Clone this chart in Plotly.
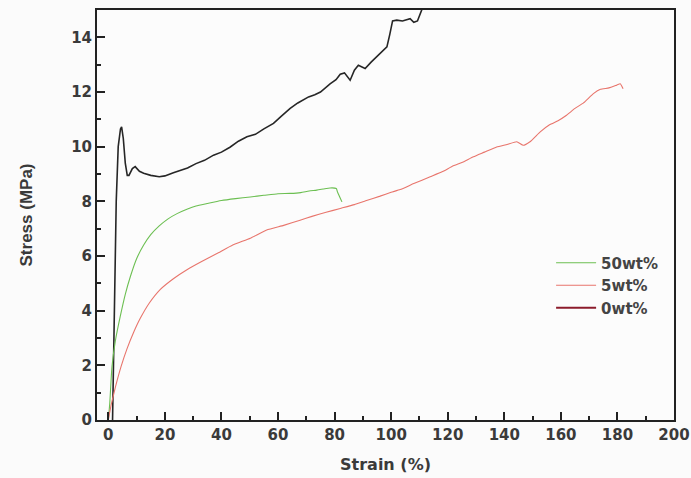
import plotly.graph_objects as go

# ---- data ----
strain_0wt = [1.5, 1.8, 2.2, 2.8, 3.5, 4.3, 4.7, 5.3, 6.0, 6.7, 7.3, 8.5, 9.5, 11.0, 12.5,
              15.0, 18.0, 20.0, 23.0, 25.4, 28.0, 31.0, 34.0, 37.2, 40.0, 43.0, 46.0, 49.0,
              52.0, 55.0, 58.4, 61.0, 64.3, 67.0, 70.8, 73.0, 75.0, 78.4, 80.5, 82.0, 83.5,
              85.5, 87.0, 88.4, 90.8, 93.0, 96.1, 98.5, 99.5, 100.5, 102.0, 104.0, 106.7,
              108.0, 109.3, 110.8, 111.5]
stress_0wt = [0.0, 2.0, 5.0, 8.0, 10.0, 10.65, 10.72, 10.3, 9.4, 8.95, 8.95, 9.2, 9.27, 9.1, 9.03,
              8.95, 8.9, 8.93, 9.05, 9.14, 9.22, 9.38, 9.5, 9.69, 9.8, 9.98, 10.2, 10.36,
              10.45, 10.65, 10.85, 11.1, 11.4, 11.6, 11.82, 11.9, 12.0, 12.3, 12.45, 12.65, 12.7,
              12.43, 12.8, 12.98, 12.86, 13.1, 13.4, 13.65, 14.1, 14.6, 14.63, 14.6, 14.68,
              14.55, 14.6, 15.0, 15.3]

strain_50wt = [0.0, 0.5, 1.3, 2.5, 4.2, 6.0, 7.8, 10.0, 12.5, 15.0, 18.0, 21.0, 24.3, 28.0, 31.0,
               34.9, 40.0, 45.0, 50.2, 55.0, 60.0, 64.3, 68.0, 71.0, 73.7, 76.0, 78.4, 80.6,
               81.0, 82.6]
stress_50wt = [0.0, 0.6, 1.95, 2.9, 3.78, 4.6, 5.25, 5.9, 6.4, 6.78, 7.1, 7.35, 7.55, 7.72, 7.83,
               7.92, 8.03, 8.1, 8.16, 8.22, 8.28, 8.29, 8.32, 8.38, 8.41, 8.45, 8.49, 8.47,
               8.35, 7.98]

strain_5wt = [0.0, 1.0, 2.5, 4.5, 6.6, 9.0, 11.3, 14.5, 18.4, 23.0, 27.8, 33.0, 38.4, 44.0, 50.2,
              56.0, 62.0, 67.8, 72.0, 77.0, 82.0, 87.0, 91.0, 96.1, 100.0, 103.2, 108.0, 113.8,
              118.0, 122.0, 125.0, 129.1, 133.0, 137.3, 141.0, 144.4, 146.7, 149.1, 152.7, 156.0,
              159.0, 162.0, 165.0, 168.0, 171.5, 174.0, 177.0, 179.7, 181.0, 182.0]
stress_5wt = [0.0, 0.55, 1.2, 1.95, 2.6, 3.22, 3.72, 4.28, 4.78, 5.17, 5.5, 5.8, 6.09, 6.4, 6.65,
              6.95, 7.12, 7.31, 7.45, 7.6, 7.74, 7.88, 8.02, 8.19, 8.33, 8.43, 8.65, 8.9,
              9.08, 9.3, 9.42, 9.63, 9.8, 9.99, 10.08, 10.18, 10.05, 10.18, 10.54, 10.8,
              10.95, 11.15, 11.4, 11.6, 11.94, 12.1, 12.15, 12.25, 12.3, 12.12]

legend_names = ["50wt%", "5wt%", "0wt%"]

WIDE = "DejaVu Sans, Verdana, sans-serif"
NARROW = "Arial, Liberation Sans, sans-serif"
TXT = "#3a3a3a"

fig = go.Figure()
fig.add_trace(go.Scatter(x=strain_0wt, y=stress_0wt, mode="lines",
                         line=dict(color="#262626", width=1.6), showlegend=False))
fig.add_trace(go.Scatter(x=strain_50wt, y=stress_50wt, mode="lines", name=legend_names[0],
                         line=dict(color="#6cbf52", width=1.1, shape="spline", smoothing=0.6)))
fig.add_trace(go.Scatter(x=strain_5wt, y=stress_5wt, mode="lines", name=legend_names[1],
                         line=dict(color="#e8756c", width=1.1, shape="spline", smoothing=0.4)))
fig.add_trace(go.Scatter(x=[None], y=[None], mode="lines", name=legend_names[2],
                         line=dict(color="#8c1c2c", width=2)))

axis_common = dict(
    showline=True, linecolor="#222222", linewidth=2, mirror=True,
    ticks="inside", ticklen=8, tickwidth=2, tickcolor="#222222",
    showgrid=False, zeroline=False, automargin=False,
    tickfont=dict(family=WIDE, size=15, color=TXT, weight="bold"),
)

fig.update_xaxes(range=[-4, 200], tick0=0, dtick=20,
                 minor=dict(ticks="inside", ticklen=4, tickwidth=2, dtick=10, tick0=0,
                            tickcolor="#222222"),
                 title=dict(text="<b>Strain (%)</b>", font=dict(family=WIDE, size=16, color=TXT),
                            standoff=16),
                 **axis_common)
fig.update_yaxes(range=[0, 15], tick0=0, dtick=2,
                 minor=dict(ticks="inside", ticklen=4, tickwidth=2, dtick=1, tick0=0,
                            tickcolor="#222222"),
                 title=dict(text="<b>Stress (MPa)</b>", font=dict(family=NARROW, size=17, color=TXT),
                            standoff=34),
                 **axis_common)

fig.update_layout(
    width=691, height=478,
    margin=dict(l=97, r=17, t=10, b=58),
    paper_bgcolor="#fbfbfb", plot_bgcolor="#fcfcfc",
    legend=dict(x=0.787, y=0.423, xanchor="left", yanchor="top",
                bgcolor="rgba(0,0,0,0)",
                font=dict(family=WIDE, size=15, color="#444444", weight="bold"),
                tracegroupgap=0, itemwidth=40),
)

fig.write_html("out.html")
